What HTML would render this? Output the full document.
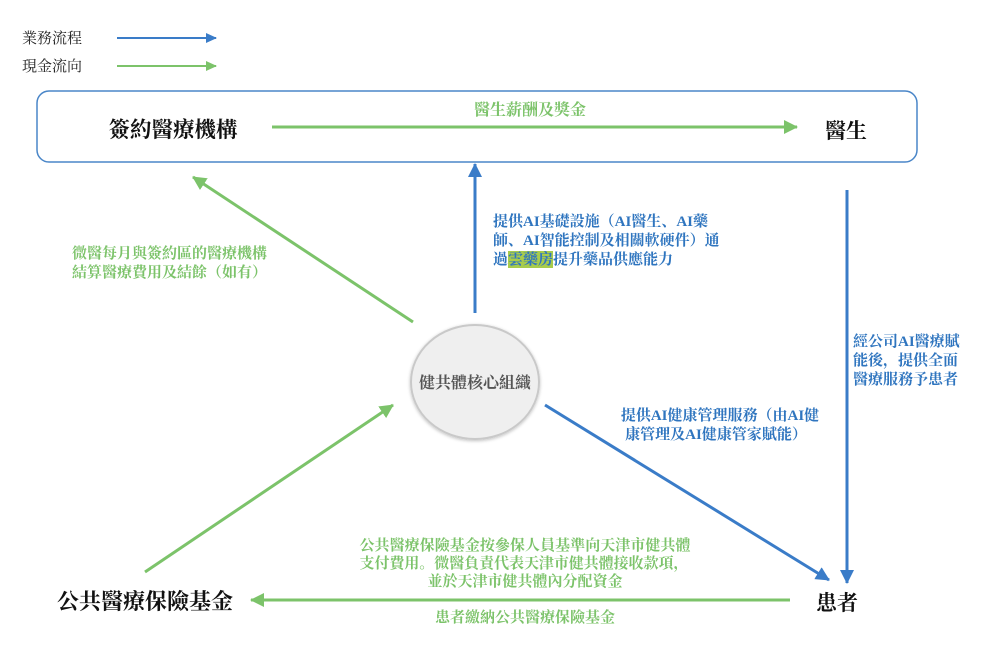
<!DOCTYPE html>
<html><head><meta charset="utf-8">
<style>
html,body{margin:0;padding:0;background:#fff;}
svg{display:block;}
text{font-family:"Liberation Serif","Noto Serif CJK SC","Noto Serif CJK TC",serif;}
.b{fill:#2f75bf;font-weight:700;font-size:15px;}
.g{fill:#7cc36a;font-weight:700;font-size:15px;}
.k{fill:#111;font-weight:700;}
</style></head>
<body>
<svg width="992" height="651" viewBox="0 0 992 651" xmlns="http://www.w3.org/2000/svg">
<defs>
<marker id="ab" markerWidth="11" markerHeight="10" refX="10" refY="5" orient="auto" markerUnits="userSpaceOnUse" viewBox="0 0 11 10"><path d="M0,0 L11,5 L0,10 z" fill="#3a7cc8"/></marker>
<marker id="ag" markerWidth="11" markerHeight="10" refX="10" refY="5" orient="auto" markerUnits="userSpaceOnUse" viewBox="0 0 11 10"><path d="M0,0 L11,5 L0,10 z" fill="#7cc36a"/></marker>
<marker id="abL" markerWidth="14" markerHeight="14" refX="13" refY="7" orient="auto" markerUnits="userSpaceOnUse" viewBox="0 0 14 14"><path d="M0,0 L14,7 L0,14 z" fill="#3a7cc8"/></marker>
<marker id="agL" markerWidth="14" markerHeight="14" refX="13" refY="7" orient="auto" markerUnits="userSpaceOnUse" viewBox="0 0 14 14"><path d="M0,0 L14,7 L0,14 z" fill="#7cc36a"/></marker>
<filter id="sh" x="-20%" y="-20%" width="140%" height="140%"><feGaussianBlur in="SourceAlpha" stdDeviation="1.5"/><feOffset dx="0" dy="1" result="o"/><feFlood flood-color="#000" flood-opacity="0.25"/><feComposite in2="o" operator="in"/><feMerge><feMergeNode/><feMergeNode in="SourceGraphic"/></feMerge></filter>
</defs>

<!-- legend -->
<text x="22" y="43" font-size="15" fill="#222">業務流程</text>
<text x="22" y="71" font-size="15" fill="#222">現金流向</text>
<line x1="117" y1="38" x2="216" y2="38" stroke="#3a7cc8" stroke-width="2" marker-end="url(#ab)"/>
<line x1="117" y1="66" x2="216" y2="66" stroke="#7cc36a" stroke-width="2" marker-end="url(#ag)"/>

<!-- top box -->
<rect x="37" y="91" width="880" height="71" rx="12" ry="12" fill="none" stroke="#4a86c8" stroke-width="1.5"/>
<text x="173" y="137" class="k" font-size="21.5" text-anchor="middle">簽約醫療機構</text>
<text x="846" y="138" class="k" font-size="21" text-anchor="middle">醫生</text>
<line x1="272" y1="127" x2="797" y2="127" stroke="#7cc36a" stroke-width="3" marker-end="url(#agL)"/>
<text x="530" y="115" class="g" style="font-size:16px" text-anchor="middle">醫生薪酬及獎金</text>

<!-- vertical blue up -->
<line x1="475" y1="313" x2="475" y2="164" stroke="#3a7cc8" stroke-width="3" marker-end="url(#abL)"/>
<text class="b" x="493" y="226">提供AI基礎設施（AI醫生、AI藥</text>
<text class="b" x="493" y="245">師、AI智能控制及相關軟硬件）通</text>
<rect x="508" y="251" width="45" height="17" fill="#a8cc4c"/>
<text class="b" x="493" y="264">過雲藥房提升藥品供應能力</text>

<!-- green diagonal to top-left -->
<line x1="413" y1="322" x2="193" y2="177" stroke="#7cc36a" stroke-width="3" marker-end="url(#agL)"/>
<text class="g" x="72" y="258">微醫每月與簽約區的醫療機構</text>
<text class="g" x="72" y="277">結算醫療費用及結餘（如有）</text>

<!-- right vertical blue -->
<line x1="847" y1="190" x2="847" y2="583" stroke="#3a7cc8" stroke-width="3" marker-end="url(#abL)"/>
<text class="b" x="853" y="346">經公司AI醫療賦</text>
<text class="b" x="853" y="365">能後，提供全面</text>
<text class="b" x="853" y="384">醫療服務予患者</text>

<!-- circle -->
<ellipse cx="475" cy="382" rx="64" ry="57" fill="#efefef" stroke="#c9c9c9" stroke-width="2" filter="url(#sh)"/>
<text x="475" y="388" font-size="16" font-weight="700" fill="#555" text-anchor="middle">健共體核心組織</text>

<!-- blue diagonal to patient -->
<line x1="545" y1="405" x2="829" y2="580" stroke="#3a7cc8" stroke-width="3" marker-end="url(#abL)"/>
<text class="b" x="720" y="420" text-anchor="middle">提供AI健康管理服務（由AI健</text>
<text class="b" x="716" y="439" text-anchor="middle">康管理及AI健康管家賦能）</text>

<!-- green diagonal from fund to center -->
<line x1="145" y1="572" x2="393" y2="405" stroke="#7cc36a" stroke-width="3" marker-end="url(#agL)"/>
<text class="g" x="525" y="550" text-anchor="middle" textLength="331">公共醫療保險基金按參保人員基準向天津市健共體</text>
<text class="g" x="524" y="568" text-anchor="middle" textLength="329">支付費用。微醫負責代表天津市健共體接收款項，</text>
<text class="g" x="525" y="586" text-anchor="middle">並於天津市健共體內分配資金</text>

<!-- bottom green horizontal -->
<line x1="790" y1="600" x2="251" y2="600" stroke="#7cc36a" stroke-width="3" marker-end="url(#agL)"/>
<text class="g" x="525" y="622" text-anchor="middle">患者繳納公共醫療保險基金</text>

<text x="145" y="609" class="k" font-size="22" text-anchor="middle">公共醫療保險基金</text>
<text x="837" y="610" class="k" font-size="21" text-anchor="middle">患者</text>
</svg>
</body></html>
